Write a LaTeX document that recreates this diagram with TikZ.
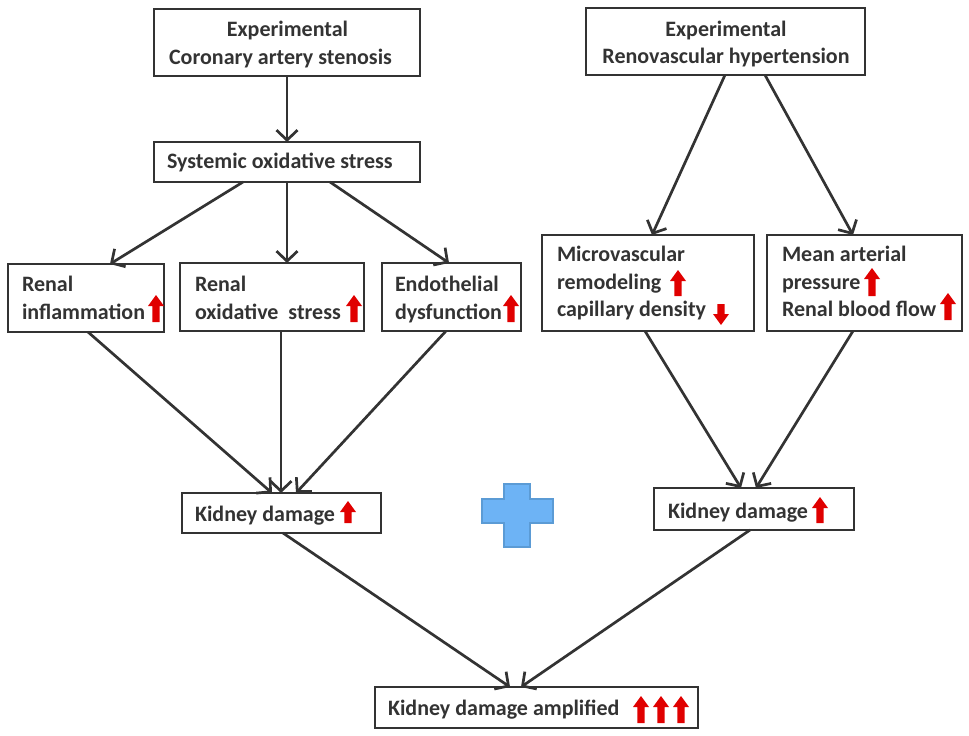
\documentclass[tikz,border=0pt]{standalone}
\usepackage{fontspec}
\setmainfont{Carlito}[BoldFont=Carlito Bold]
\usetikzlibrary{arrows.meta}
\definecolor{ink}{HTML}{333333}
\definecolor{redarr}{HTML}{E00000}
\definecolor{plusfill}{HTML}{6DB3F5}
\definecolor{plusedge}{HTML}{5B9BD5}
\newcommand\redUp[3]{\fill[redarr] (#1-3.6,#3) -- (#1-3.6,#2+11) -- (#1-8,#2+11) -- (#1,#2) -- (#1+8,#2+11) -- (#1+3.6,#2+11) -- (#1+3.6,#3) -- cycle;}
\newcommand\redDown[3]{\fill[redarr] (#1-3.6,#2) -- (#1-3.6,#3-11) -- (#1-8,#3-11) -- (#1,#3) -- (#1+8,#3-11) -- (#1+3.6,#3-11) -- (#1+3.6,#2) -- cycle;}
\begin{document}
\begin{tikzpicture}[x=1pt,y=-1pt,
  box/.style={draw=ink,line width=2pt,rectangle,inner sep=0pt,outer sep=0pt},
  txt/.style={inner sep=0pt,outer sep=0pt,text=ink,font=\fontsize{22}{26}\selectfont\bfseries},
  arr/.style={draw=ink,line width=2.7pt,-{Straight Barb[length=10pt,width=21pt,line width=2.7pt]}}]
\useasboundingbox (0,0) rectangle (969,736);
% boxes
\node[box,minimum width=266pt,minimum height=67pt] (A) at (287,42.5) {};
\node[box,minimum width=279pt,minimum height=67pt] (B) at (725.5,41.5) {};
\node[box,minimum width=266pt,minimum height=40pt] (C) at (287,162) {};
\node[box,minimum width=156pt,minimum height=68pt] (D1) at (86,298) {};
\node[box,minimum width=184pt,minimum height=68pt] (D2) at (272,297) {};
\node[box,minimum width=139pt,minimum height=68pt] (D3) at (451.5,297) {};
\node[box,minimum width=212pt,minimum height=96pt] (M1) at (648,283) {};
\node[box,minimum width=195pt,minimum height=96pt] (M2) at (864.5,283) {};
\node[box,minimum width=199pt,minimum height=40pt] (K1) at (281.5,513) {};
\node[box,minimum width=200pt,minimum height=42pt] (K2) at (754,509) {};
\node[box,minimum width=323pt,minimum height=41pt] (K3) at (536.5,707.5) {};
% texts
\node[txt,anchor=base] (tA1) at (287.5,36) {Experimental};
\node[txt,anchor=base] (tA2) at (280.5,64) {Coronary artery stenosis};
\node[txt,anchor=base] (tB1) at (726,36) {Experimental};
\node[txt,anchor=base] (tB2) at (726,63.5) {Renovascular hypertension};
\node[txt,anchor=base west] (tC) at (167,168.5) {Systemic oxidative stress};
\node[txt,anchor=base west] (tD1a) at (22,291.5) {Renal};
\node[txt,anchor=base west] (tD1b) at (22,319.5) {inflammation};
\node[txt,anchor=base west] (tD2a) at (195,291.5) {Renal};
\node[txt,anchor=base west] (tD2b) at (195,319.5) {oxidative\ \ stress};
\node[txt,anchor=base west] (tD3a) at (395,291.5) {Endothelial};
\node[txt,anchor=base west] (tD3b) at (395,319.5) {dysfunction};
\node[txt,anchor=base west] (tM1a) at (557,261.5) {Microvascular};
\node[txt,anchor=base west] (tM1b) at (557,289) {remodeling};
\node[txt,anchor=base west] (tM1c) at (557,316) {capillary density};
\node[txt,anchor=base west] (tM2a) at (782,261.5) {Mean arterial};
\node[txt,anchor=base west] (tM2b) at (782,289) {pressure};
\node[txt,anchor=base west] (tM2c) at (782,316) {Renal blood flow};
\node[txt,anchor=base west] (tK1) at (195,521.5) {Kidney damage};
\node[txt,anchor=base west] (tK2) at (668,518) {Kidney damage};
\node[txt,anchor=base west] (tK3) at (388,715) {Kidney damage amplified};
% red arrows
\redUp{156}{295}{322}
\redUp{354}{295}{322}
\redUp{511}{295}{322}
\redUp{678}{270}{296}
\redDown{721}{304}{325}
\redUp{872}{268}{296}
\redUp{948}{293}{320}
\redUp{348}{501}{523}
\redUp{820}{497}{523}
\redUp{641}{696}{723}
\redUp{661}{696}{723}
\redUp{681}{696}{723}
% plus
\draw[fill=plusfill,draw=plusedge,line width=2pt]
  (504,484) -- (530,484) -- (530,499) -- (553,499) -- (553,523) -- (530,523) -- (530,547)
  -- (504,547) -- (504,523) -- (482,523) -- (482,499) -- (504,499) -- cycle;
% connectors
\draw[arr] (A.south) -- (C.north);
\draw[arr] ([xshift=89pt]C.south west) -- ([xshift=102pt]D1.north west);
\draw[arr] (C.south) -- (C.south |- D2.north);
\draw[arr] ([xshift=176pt]C.south west) -- ([xshift=67pt]D3.north west);
\draw[arr] ([xshift=139pt]B.south west) -- ([xshift=110pt]M1.north west);
\draw[arr] ([xshift=179pt]B.south west) -- ([xshift=86pt]M2.north west);
\draw[arr] ([xshift=80pt]D1.south west) -- ([xshift=90pt]K1.north west);
\draw[arr] ([xshift=101pt]D2.south west) -- ([xshift=99pt]K1.north west);
\draw[arr] ([xshift=64pt]D3.south west) -- ([xshift=114pt]K1.north west);
\draw[arr] ([xshift=103pt]M1.south west) -- ([xshift=87pt]K2.north west);
\draw[arr] ([xshift=86pt]M2.south west) -- ([xshift=102pt]K2.north west);
\draw[arr] ([xshift=101pt]K1.south west) -- ([xshift=135pt]K3.north west);
\draw[arr] ([xshift=96pt]K2.south west) -- ([xshift=146pt]K3.north west);
\end{tikzpicture}
\end{document}
